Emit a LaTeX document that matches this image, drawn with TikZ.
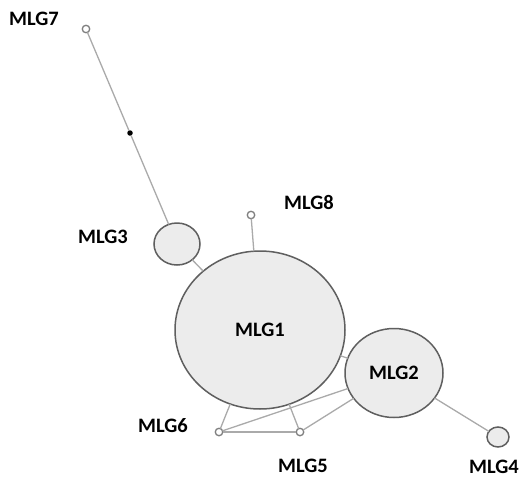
\documentclass[tikz,border=0pt]{standalone}
\usepackage{fontspec}
\setmainfont{Carlito}
\usetikzlibrary{shapes.geometric}
\definecolor{mlgfill}{RGB}{236,236,236}
\definecolor{mlgline}{RGB}{95,95,95}
\definecolor{edgegray}{RGB}{170,170,170}
\begin{document}
\begin{tikzpicture}[x=1pt,y=-1pt,
	mlg/.style={draw=mlgline,fill=mlgfill,ellipse,line width=1.5pt,inner sep=0,outer sep=0,font=\fontsize{20.5}{24}\selectfont\bfseries},
	tiny/.style={draw=mlgline!80,fill=white,circle,line width=1.3pt,inner sep=0,outer sep=0,minimum size=7.5pt},
	lbl/.style={font=\fontsize{20.5}{24}\selectfont\bfseries,inner sep=0},
	edge/.style={draw=edgegray,line width=1.3pt}]
	\useasboundingbox[fill=white] (0,0) rectangle (525,482);
	\node[mlg,minimum width=170pt,minimum height=158pt] (1) at (260,330) {MLG1};
	\node[mlg,minimum width=98pt,minimum height=89pt] (2) at (394,373) {MLG2};
	\node[mlg,minimum width=46pt,minimum height=42pt] (3) at (177,244) {};
	\node[mlg,minimum width=22pt,minimum height=20pt] (4) at (498,437) {};
	\node[tiny] (5) at (300,432) {};
	\node[tiny] (6) at (219,432) {};
	\node[tiny] (7) at (86,29) {};
	\node[tiny] (8) at (251,215) {};
	\node[circle,fill=black,inner sep=0,outer sep=0,minimum size=5.5pt] (m) at (130,133) {};
	\node[lbl] (l3) at (103,237) {MLG3};
	\node[lbl] (l4) at (494,467) {MLG4};
	\node[lbl] (l5) at (303,466) {MLG5};
	\node[lbl] (l6) at (163,426) {MLG6};
	\node[lbl] (l7) at (34,19) {MLG7};
	\node[lbl] (l8) at (309,202) {MLG8};
	\path[edge] (7) -- (m) -- (3);
	\path[edge] (3) -- (1);
	\path[edge] (8) -- (1);
	\path[edge] (1) -- (2);
	\path[edge] (2) -- (4);
	\path[edge] (1) -- (6);
	\path[edge] (1) -- (5);
	\path[edge] (6) -- (5);
	\path[edge] (6) -- (2);
	\path[edge] (5) -- (2);
\end{tikzpicture}
\end{document}
